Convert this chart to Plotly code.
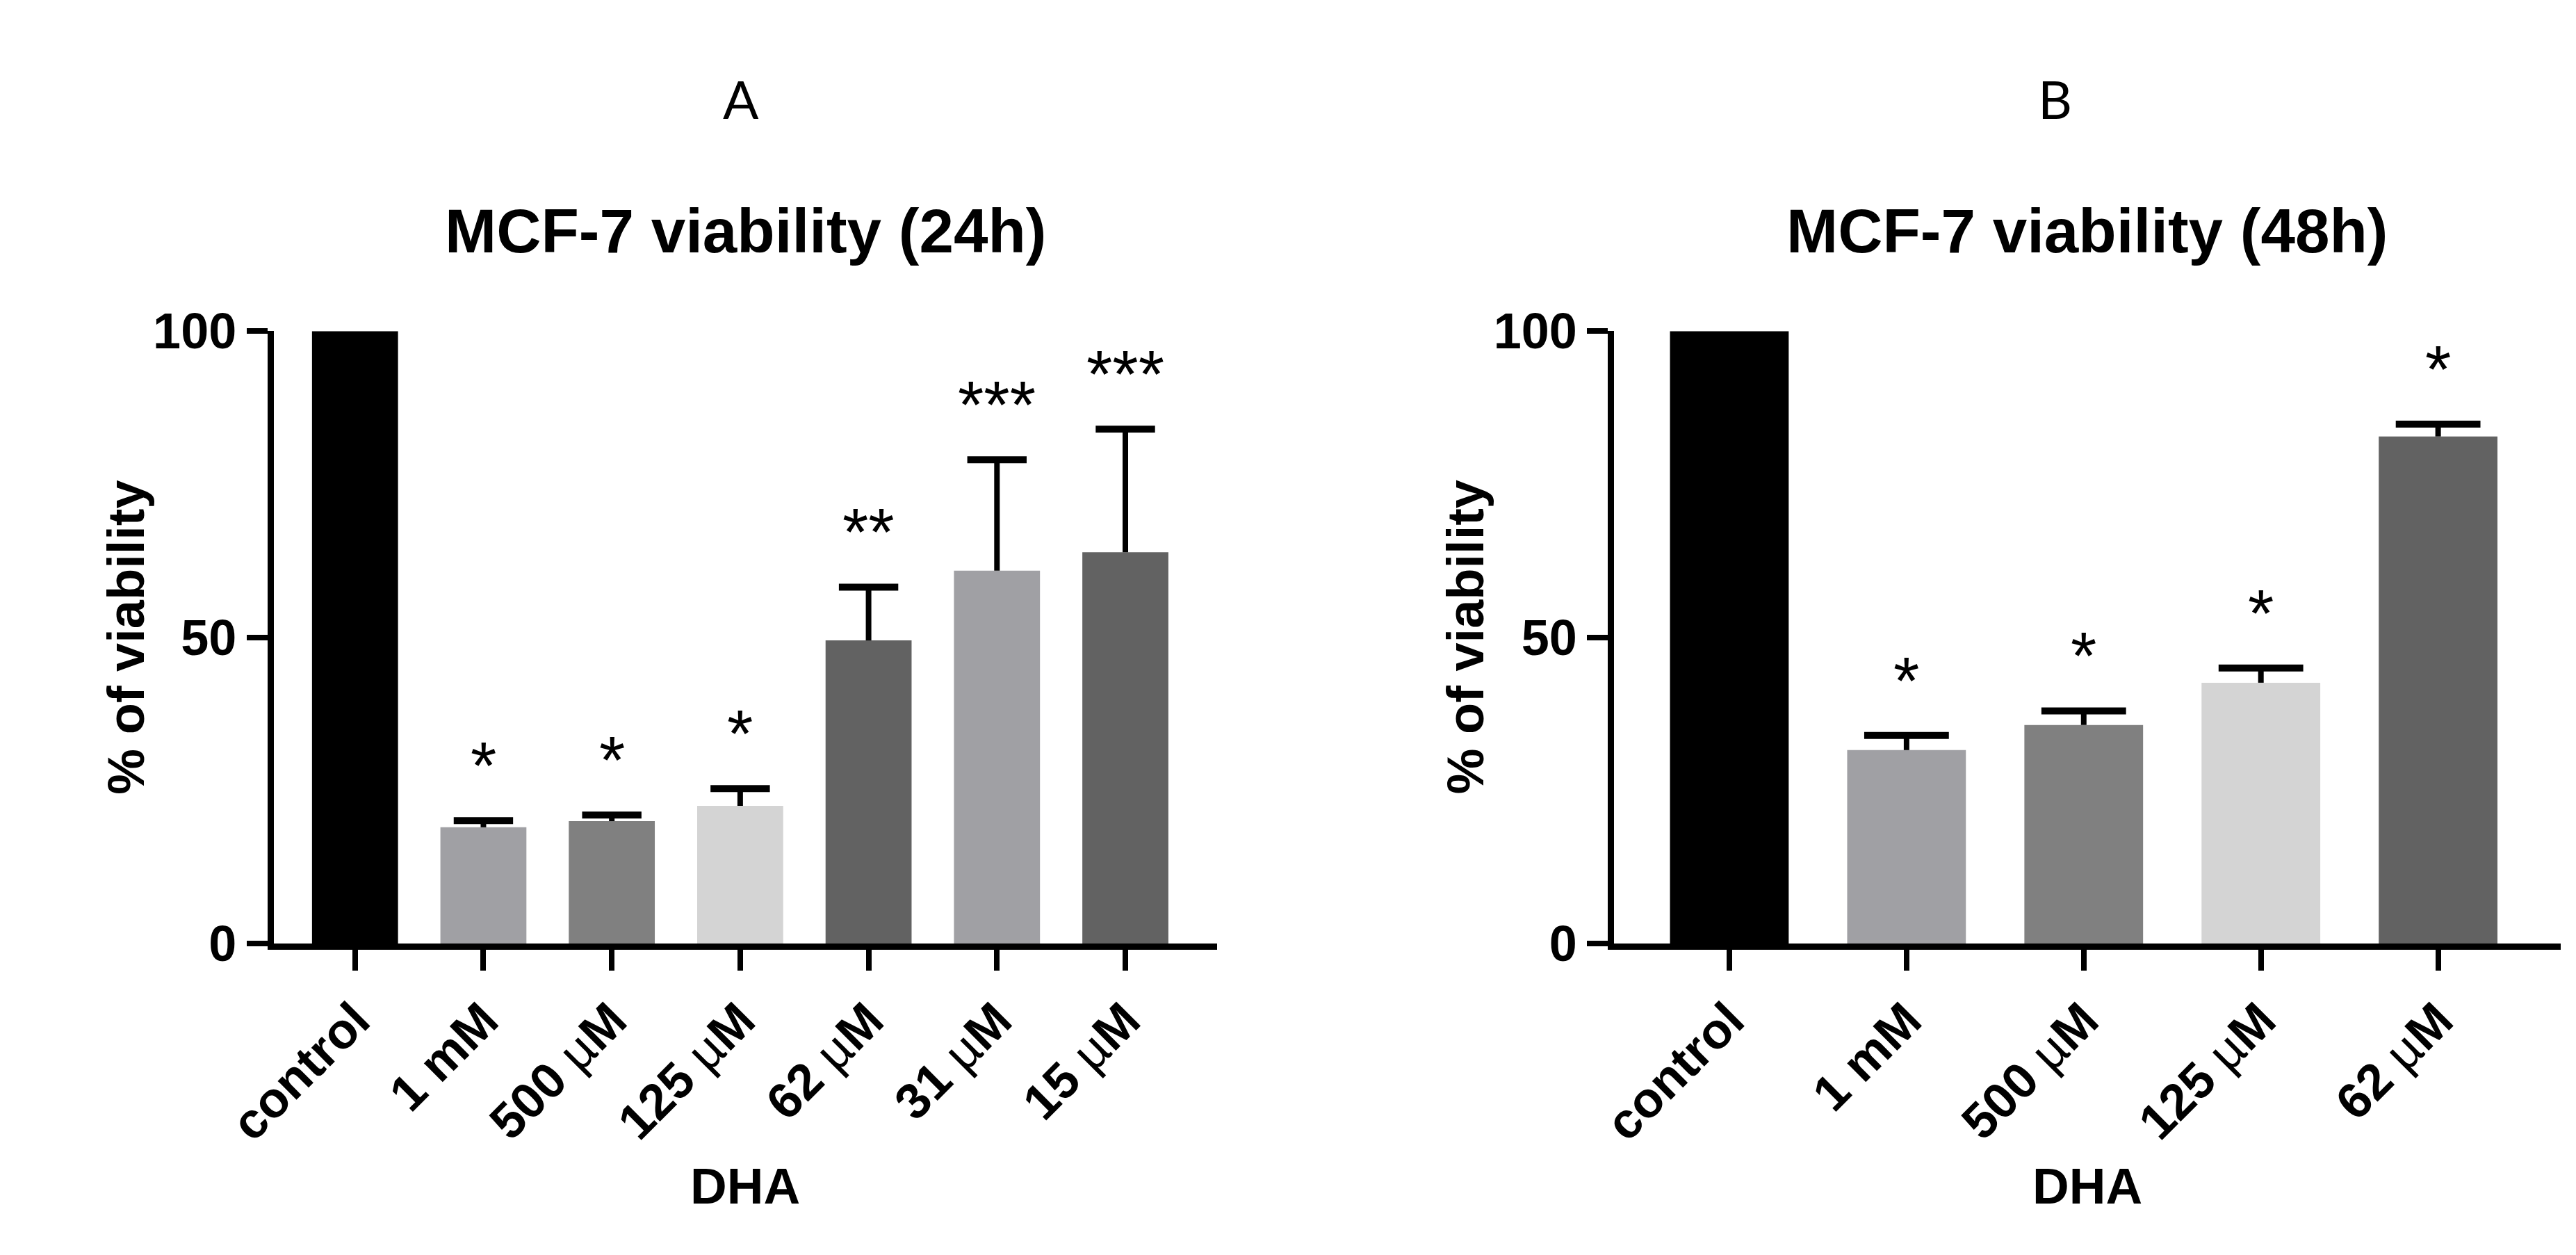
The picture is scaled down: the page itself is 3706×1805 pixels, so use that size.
import plotly.graph_objects as go
from plotly.subplots import make_subplots

# data (% of viability, mean and upper error)
doses_24h = ["control", "1 mM", "500 µM", "125 µM", "62 µM", "31 µM", "15 µM"]
mean_24h = [100, 19.0, 20.0, 22.5, 49.5, 60.9, 63.9]
err_24h = [None, 1.1, 1.0, 2.8, 8.7, 18.1, 20.1]
stars_24h = ["", "*", "*", "*", "**", "***", "***"]

doses_48h = ["control", "1 mM", "500 µM", "125 µM", "62 µM"]
mean_48h = [100, 31.6, 35.7, 42.6, 82.8]
err_48h = [None, 2.4, 2.3, 2.4, 2.0]
stars_48h = ["", "*", "*", "*", "*"]

cols_24h = ["#000000", "#a0a0a4", "#808080", "#d4d4d4", "#626262", "#a0a0a4", "#626262"]
cols_48h = ["#000000", "#a0a0a4", "#808080", "#d4d4d4", "#626262"]

W, H = 3706, 1805
FONT = "Liberation Sans, Arial, sans-serif"


def ticktext(labels):
    # the micro sign is drawn thin in the original
    return [s.replace("µ", "<span style='font-weight:normal'>µ</span>") for s in labels]


def upper_errors(doses, mean, err, cap, row, col):
    # GraphPad style: only the upper whisker and its cap
    xs, ys, cx, cy = [], [], [], []
    for d, m, e in zip(doses, mean, err):
        if e is None:
            continue
        xs += [d, d, None]
        ys += [m, m + e, None]
        cx.append(d)
        cy.append(m + e)
    fig.add_trace(go.Scatter(x=xs, y=ys, mode="lines", line=dict(color="black", width=8),
                             showlegend=False, hoverinfo="skip", cliponaxis=False), row=row, col=col)
    fig.add_trace(go.Scatter(x=cx, y=cy, mode="markers", showlegend=False, cliponaxis=False,
                             marker=dict(symbol="line-ew", size=cap,
                                         line=dict(color="black", width=10))), row=row, col=col)


fig = make_subplots(rows=1, cols=2)

fig.add_trace(go.Bar(x=doses_24h, y=mean_24h, marker=dict(color=cols_24h, line=dict(width=0)),
                     showlegend=False), row=1, col=1)
fig.add_trace(go.Bar(x=doses_48h, y=mean_48h, marker=dict(color=cols_48h, line=dict(width=0)),
                     showlegend=False), row=1, col=2)
upper_errors(doses_24h, mean_24h, err_24h, 61, 1, 1)
upper_errors(doses_48h, mean_48h, err_48h, 87, 1, 2)

axis_common = dict(showline=True, linecolor="black", linewidth=9, ticks="outside",
                   tickwidth=8, ticklen=30, tickcolor="black", showgrid=False, zeroline=False,
                   tickfont=dict(family=FONT, size=72, color="black", weight="bold"))

fig.update_xaxes(axis_common, tickangle=-45)
fig.update_yaxes(axis_common, range=[0, 100], tickvals=[0, 50, 100])
fig.update_xaxes(domain=[0.0853, 0.4593], range=[-0.634, 6.716],
                 tickvals=doses_24h, ticktext=ticktext(doses_24h), row=1, col=1)
fig.update_xaxes(domain=[0.6166, 0.9916], range=[-0.65, 4.69],
                 tickvals=doses_48h, ticktext=ticktext(doses_48h), row=1, col=2)
fig.update_yaxes(domain=[0.2410, 0.7518])

ann = []
# significance stars
for xref, yref, doses, m, e, s in [("x", "y", doses_24h, mean_24h, err_24h, stars_24h),
                                     ("x2", "y2", doses_48h, mean_48h, err_48h, stars_48h)]:
    for d, v, ev, st in zip(doses, m, e, s):
        if st:
            ann.append(dict(x=d, y=v + ev, xref=xref, yref=yref, text=st, showarrow=False,
                            xanchor="center", yanchor="bottom", yshift=24,
                            font=dict(family=FONT, size=96, color="black")))

# panel letters, titles, axis titles
panels = [(1003, 1009, 100, "A", "MCF-7 viability (24h)"),
          (2933, 2980, 2067, "B", "MCF-7 viability (48h)")]
for lx, cx, yx, letter, title in panels:
    ann.append(dict(x=lx / W, y=1 - 98 / H, xref="paper", yref="paper", text=letter,
                    showarrow=False, xanchor="center", yanchor="middle",
                    font=dict(family="Lato, sans-serif", size=76, color="black")))
    ann.append(dict(x=cx / W, y=1 - 297 / H, xref="paper", yref="paper", text=title,
                    showarrow=False, xanchor="center", yanchor="middle",
                    font=dict(family=FONT, size=89, color="black", weight="bold")))
    ann.append(dict(x=cx / W, y=1 - 1734 / H, xref="paper", yref="paper", text="DHA",
                    showarrow=False, xanchor="center", yanchor="middle",
                    font=dict(family=FONT, size=73, color="black", weight="bold")))
    ann.append(dict(x=yx / W, y=1 - 909 / H, xref="paper", yref="paper", text="% of viability",
                    showarrow=False, textangle=-90, xanchor="center", yanchor="middle",
                    font=dict(family=FONT, size=74, color="black", weight="bold")))

fig.update_layout(width=W, height=H, margin=dict(l=0, r=0, t=0, b=0),
                  paper_bgcolor="white", plot_bgcolor="white", bargap=0.33,
                  annotations=ann)

fig.write_html("out.html")
